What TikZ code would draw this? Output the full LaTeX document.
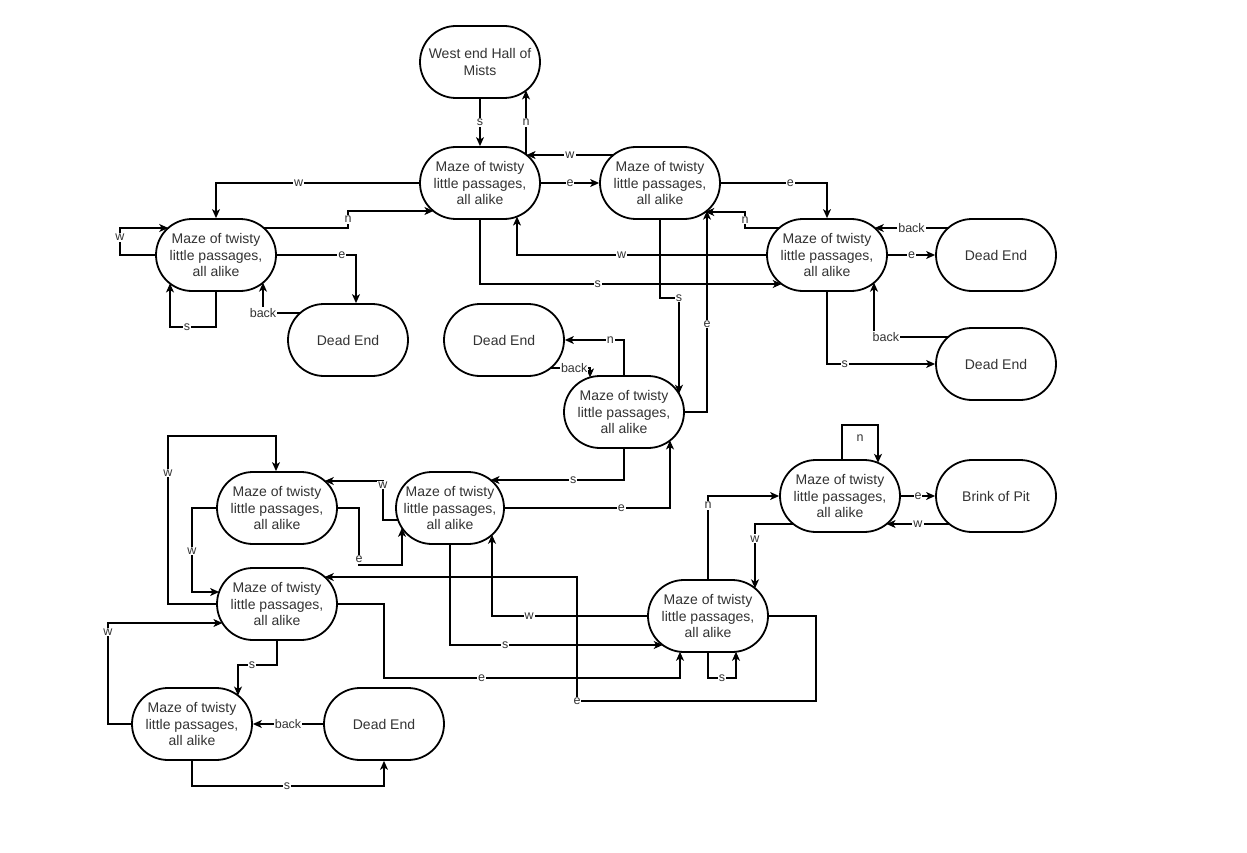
\documentclass[tikz,border=0pt]{standalone}
\usepackage{fontspec}
\setmainfont{Liberation Sans}
\usetikzlibrary{arrows.meta}
\begin{document}
\begin{tikzpicture}[x=1pt,y=-1pt,
 room/.style={draw, line width=1.8pt, rounded corners=36pt, minimum width=120pt, minimum height=72pt, align=center, text=black!80, font=\fontsize{14}{16.5}\selectfont, inner sep=0pt},
 conn/.style={draw, line width=1.1pt, -{Stealth[length=9pt,width=8pt,inset=2.5pt]}},
 lbl/.style={fill=white, inner sep=1pt, text=black!80, font=\fontsize{12.5}{13}\selectfont}]
\fill[white] (0,0) rectangle (1247,853);
\useasboundingbox (0,0) rectangle (1247,853);
\def\mz{Maze of twisty\\little passages,\\all alike}
\node[room] (we) at (480,62) {West end Hall of\\Mists};
\node[room] (m1) at (480,183) {\mz};
\node[room] (m2) at (660,183) {\mz};
\node[room] (m3) at (216,255) {\mz};
\node[room] (m4) at (827,255) {\mz};
\node[room] (de1) at (996,255) {Dead End};
\node[room] (de2) at (996,364) {Dead End};
\node[room] (de3) at (348,340) {Dead End};
\node[room] (de4) at (504,340) {Dead End};
\node[room] (m5) at (624,412) {\mz};
\node[room] (m6) at (277,508) {\mz};
\node[room, minimum width=108pt] (m7) at (450,508) {\mz};
\node[room] (m8) at (277,604) {\mz};
\node[room] (m9) at (192,724) {\mz};
\node[room] (de5) at (384,724) {Dead End};
\node[room] (m10) at (708,616) {\mz};
\node[room] (m11) at (840,496) {\mz};
\node[room] (bp) at (996,496) {Brink of Pit};
% top
\draw[conn] (we.south) -- node[lbl]{s} (m1.north);
\draw[conn] ([shift={(46,-28.5)}]m1.center) -- node[lbl]{n} ([shift={(46,28.5)}]we.center);
\draw[conn] ([shift={(-46.6,-28)}]m2.center) -- node[lbl]{w} ([shift={(46.6,-28)}]m1.center);
\draw[conn] (m1.east) -- node[lbl]{e} (m2.west);
\draw[conn] (m1.west) -- node[lbl,pos=0.593]{w} (m1.west -| m3.north) -- (m3.north);
\draw[conn] ([shift={(47.8,-27)}]m3.center) -- (348,228) -- node[lbl]{n} (348,211) -- ([shift={(-46.6,28)}]m1.center);
\draw[conn] (m3.west) -- (120,255) -- node[lbl,pos=0.65]{w} (120,228) -- ([shift={(-47.8,-27)}]m3.center);
\draw[conn] (m3.south) -- (216,327) -- node[lbl,pos=0.63]{s} (170,327) -- ([shift={(-46,28.5)}]m3.center);
\draw[conn] (m3.east) -- node[lbl,pos=0.82]{e} (356,255) -- ([xshift=8]de3.north);
\draw[conn] ([shift={(-47.8,-27)}]de3.center) -- node[lbl,pos=1]{back} (263,313) -- ([shift={(47,27.7)}]m3.center);
\draw[conn] (m1.south) -- (480,284) -- node[lbl,pos=0.39]{s} ([shift={(-45.3,29)}]m4.center);
\draw[conn] (m4.west) -- node[lbl,pos=0.58]{w} (517,255) -- ([shift={(37,33.6)}]m1.center);
\draw[conn] (m2.east) -- node[lbl,pos=0.654]{e} (m2.east -| m4.north) -- (m4.north);
\draw[conn] ([shift={(-47.8,-27)}]m4.center) -- (745,228) -- node[lbl]{n} (745,212) -- ([shift={(45.3,29)}]m2.center);
\draw[conn] ([shift={(-47.8,-27)}]de1.center) -- node[lbl]{back} ([shift={(47.8,-27)}]m4.center);
\draw[conn] (m4.east) -- node[lbl]{e} (de1.west);
\draw[conn] (m4.south) -- (m4.south |- de2.west) -- node[lbl,pos=0.165]{s} (de2.west);
\draw[conn] ([shift={(-47.8,-27)}]de2.center) -- node[lbl,pos=0.84]{back} (874,337) -- ([shift={(47,27.7)}]m4.center);
% middle
\draw[conn] (m2.south) -- (660,298) -- (679,298) node[lbl]{s} -- ([shift={(55,-18.3)}]m5.center);
\draw[conn] (m5.east) -- (707,412) -- node[lbl,pos=0.437]{e} ([shift={(47,27.7)}]m2.center);
\draw[conn] (m5.north) -- (m5.north |- de4.east) -- node[lbl,pos=0.23]{n} (de4.east);
\draw[conn] ([shift={(46.6,28)}]de4.center) -- node[lbl,pos=0.6]{back} (590,368) -- ([shift={(-34,-34.6)}]m5.center);
\draw[conn] (m5.south) -- (624,480) -- node[lbl,pos=0.38]{s} ([shift={(40.6,-28)}]m7.center);
\draw[conn] (m7.east) -- node[lbl,pos=0.705]{e} (670,508) -- ([shift={(46,28.5)}]m5.center);
\draw[conn] ([shift={(-51.9,12)}]m7.center) -- (383,520) -- node[lbl,pos=0.9]{w} (383,481) -- ([shift={(47.8,-27)}]m6.center);
\draw[conn] (m6.east) -- (359,508) -- node[lbl,pos=0.9]{e} (359,565) -- (402,565) -- ([shift={(-48,19.9)}]m7.center);
% left bottom
\draw[conn] (m6.west) -- (192,508) -- node[lbl,pos=0.51]{w} (192,592) -- ([shift={(-57.9,-12)}]m8.center);
\draw[conn] (m8.west) -- (168,604) -- node[lbl,pos=0.78]{w} (168,436) -- (276,436) -- ([xshift=-1]m6.north);
\draw[conn] (m9.west) -- (108,724) -- node[lbl,pos=0.91]{w} (108,623) -- ([shift={(-54.6,19)}]m8.center);
\draw[conn] (m8.south) -- (277,665) -- node[lbl,pos=0.64]{s} (238,665) -- ([shift={(46,-28.5)}]m9.center);
\draw[conn] (de5.west) -- node[lbl]{back} (m9.east);
\draw[conn] (m9.south) -- (192,786) -- node[lbl,pos=0.495]{s} (384,786) -- (de5.south);
% bottom right
\draw[conn] (m10.east) -- (816,616) -- (816,701) -- (577,701) node[lbl]{e} -- (577,577) -- ([shift={(47.8,-27)}]m8.center);
\draw[conn] (m8.east) -- (384,604) -- (384,678) -- node[lbl,pos=0.33]{e} (680,678) -- ([shift={(-28,35.8)}]m10.center);
\draw[conn] (m10.west) -- node[lbl,pos=0.76]{w} (492,616) -- ([shift={(42,26.8)}]m7.center);
\draw[conn] (m7.south) -- (450,645) -- node[lbl,pos=0.26]{s} ([shift={(-45.3,29)}]m10.center);
\draw[conn] (m10.south) -- (708,678) -- node[lbl]{s} (736,678) -- ([shift={(28,35.8)}]m10.center);
\draw[conn] (m10.north) -- node[lbl,pos=0.89]{n} (m10.north |- m11.west) -- (m11.west);
\draw[conn] ([shift={(-46.6,28)}]m11.center) -- (755,524) -- node[lbl,pos=0.23]{w} ([shift={(47,-27.7)}]m10.center);
\draw[conn] ([xshift=2]m11.north) -- (842,425) -- node[lbl,yshift=-13,fill=none]{n} (878,425) -- ([shift={(38,-33.2)}]m11.center);
\draw[conn] (m11.east) -- node[lbl]{e} (bp.west);
\draw[conn] ([shift={(-46.6,28)}]bp.center) -- node[lbl]{w} ([shift={(46.6,28)}]m11.center);
\end{tikzpicture}
\end{document}
